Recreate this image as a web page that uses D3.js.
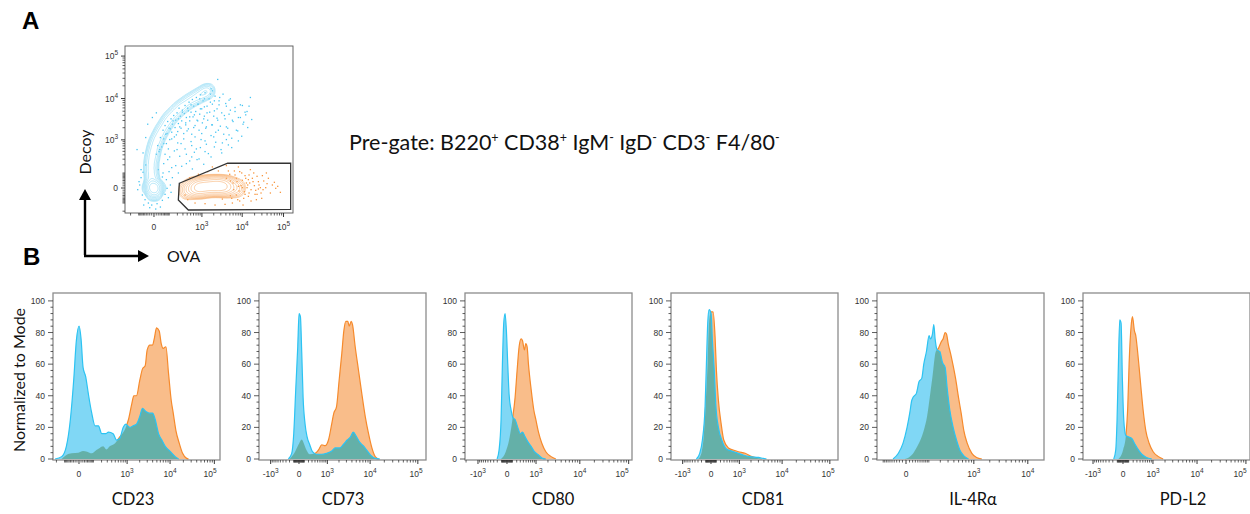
<!DOCTYPE html>
<html>
<head>
<meta charset="utf-8">
<script src="https://cdn.jsdelivr.net/npm/d3@7"></script>
<style>
  body { margin: 0; background: #fff; }
  svg { display: block; }
  text { font-family: Lato, "Open Sans", sans-serif; white-space: pre; }
</style>
</head>
<body>
<svg id="fig" width="1250" height="514"></svg>
<script>
// ---------- data ----------
const markers = ['CD23', 'CD73', 'CD80', 'CD81', 'IL-4R\u03b1', 'PD-L2'];
// biexponential-like display of each x axis: symlog constant + fluorescence range
const xConst = [90, 350, 350, 350, 63, 330];
const xRange = [[-256, 134000], [-2000, 147700], [-2118, 116800], [-2000, 147700], [-148, 19700], [-1790, 120900]];
const majorVals = [-1000, 0, 1000, 10000, 100000];
const yTicks = [0, 20, 40, 60, 80, 100];

// histograms: [channel 0-250, % of mode]  (blue = decoy+, orange = OVA+ gate)
const cd23Decoy = [[3,0],[13,1.5],[20,8],[26,25],[31,50],[35,75],[39,84],[42,76],[45,58],[49,52],[53,41],[58,29],[63,21],[68,21],[73,16],[79,16],[83,17],[90,16],[95,12],[100,13],[105,20],[109,22],[115,20],[120,21],[125,22],[130,27],[134,32],[139,30],[144,29],[149,29],[153,25],[158,16],[163,12],[168,8],[175,5],[183,1.5],[188,0]];
const cd23Ova = [[13,0],[20,2.5],[28,3.6],[38,4],[45,5],[51,4.6],[58,3.6],[65,5.7],[70,7],[75,8],[80,6],[85,8],[93,10],[100,14],[108,19],[113,25],[118,35],[121,40],[125,40],[130,50],[134,57],[138,59],[141,69],[145,72],[149,72],[152,77],[155,83],[159,81],[162,73],[165,70],[169,71],[173,54],[177,37],[180,29],[184,18],[189,10],[194,3.6],[200,0.4],[203,0]];
const cd73Decoy = [[44,0],[49,3.6],[52,16],[55,44],[58,71],[60,92],[62,90],[64,67],[66,39],[69,22],[72,14],[76,9],[80,4.6],[86,3],[94,3],[101,3.6],[109,5],[114,7],[121,7],[127,9.5],[132,12],[137,14],[141,17],[146,14],[151,10.5],[156,8.4],[161,5.7],[167,2.5],[174,0.4],[181,0]];
const cd73Ova = [[46,0],[54,4.6],[59,9],[64,12.4],[67,10],[71,5.7],[76,3],[84,3.6],[89,5.7],[94,9],[99,8.4],[104,12],[109,22.5],[112,29],[116,33],[120,50],[124,67],[127,81],[130,87],[133,87],[135,84],[138,87],[140,85],[144,71],[149,56],[154,41],[159,27],[164,16],[169,7],[174,1.5],[179,0]];
const cd80Decoy = [[48,0],[51,5.7],[54,25],[56,60],[58,86],[60,92],[62,81],[64,60],[66,41],[69,31],[72,26],[75,25],[79,20],[83,16],[86,17],[90,14],[94,11],[99,8],[104,4.6],[110,2.5],[116,0.4],[121,0]];
const cd80Ova = [[54,0],[61,4.6],[66,12],[71,25],[75,39],[78,56],[81,71],[84,76],[86,75],[89,69],[91,73],[93,71],[95,60],[99,44],[103,31],[106,25],[110,17],[115,10],[121,4.6],[129,1.5],[136,0]];
const cd81Decoy = [[38,0],[43,3.6],[47,12],[51,33],[53,60],[55,86],[57,94.5],[60,92],[62,75],[65,54],[67,35],[71,20],[76,12],[83,6.3],[91,5],[98,4],[108,2.5],[118,1.5],[131,1],[138,0.4],[143,0]];
const cd81Ova = [[41,0],[46,4.6],[49,14],[52,35],[55,62],[57,86],[60,93],[63,93],[66,77],[68,56],[71,37],[75,22.5],[79,12],[86,7],[93,5.7],[101,4.6],[111,3.6],[121,1.5],[131,0.4],[136,0]];
const il4rDecoy = [[24,0],[32,3.6],[39,10],[45,20],[49,29],[52,37],[54,39],[59,41.5],[63,49],[67,51],[70,60],[74,68],[78,78],[80,76],[83,79],[85,85],[87,76],[90,69],[94,68],[98,61],[102,58],[105,45],[109,31],[114,20],[119,12],[124,5.7],[130,2],[137,0]];
const il4rOva = [[42,0],[52,2.5],[59,7],[65,12],[70,18],[75,27],[79,39],[83,52],[88,68],[92,70],[96,74],[99,76],[102,80],[104,79],[107,72],[110,67],[114,59],[118,50],[122,39],[126,29],[130,18],[135,10],[142,3.6],[149,1],[157,0]];
const pdl2Decoy = [[46,0],[49,5.7],[51,25],[53,60],[55,88],[57,86],[59,50],[61,25],[64,15],[68,14],[73,13],[77,10],[81,7],[88,3],[95,1],[103,0]];
const pdl2Ova = [[53,0],[60,5.7],[64,14],[67,33],[69,60],[72,84],[74,90],[77,81],[79,78],[81,71],[84,58],[87,44],[90,31],[94,18],[99,10],[105,4.6],[113,1.5],[120,0]];
const decoyHists = [cd23Decoy, cd73Decoy, cd80Decoy, cd81Decoy, il4rDecoy, pdl2Decoy];
const ovaHists = [cd23Ova, cd73Ova, cd80Ova, cd81Ova, il4rOva, pdl2Ova];

// panel A: OVA (x) vs Decoy (y), channels 0-250
const scatterConstX = 75, scatterRangeX = [-300, 169300];
const scatterConstY = 80, scatterRangeY = [-229, 172500];
// dense cores [x, y, weight] used for the contour levels
const decoyCore = [[43.5,37.5,11],[44,32,3],[41,42,3],[37,37.5,2],[50,37.5,2],[43.5,29,2],[41.5,45,1.6],[40.5,52.5,1.5],[39.5,60,1.4],[39,67.5,1.4],[39.5,75,1.4],[40.5,82.5,1.4],[42,89,1.4],[43.5,96,1.4],[45.5,103,1.4],[48,109.5,1.4],[51,115.5,1.3],[54,121.5,1.3],[57.5,127.5,1.3],[61.5,133.5,1.3],[65,139,1.3],[69,144,1.2],[73.5,148.5,1.2],[78,153,1.2],[82.5,157,1.2],[87,160.5,1.1],[92,164.5,1.1],[97.5,168,1.1],[103,171,1.1],[108,174,1.1],[112.5,176.5,1.1],[117,178.5,1.2],[121,181,1.3],[124.5,183,1.4]];
const ovaCore = [[94.5,34.5,2],[105,37.5,6],[111,38,7],[117,39,8],[124,40,7],[130.5,40.5,7],[136,40.5,7],[142.5,40.5,8],[148,40,6],[154.5,39,5],[166.5,37.5,2]];
// outlying events drawn as dots
const decoyEvents = [[52,95],[58,104],[61,118],[68,126],[72,138],[80,141],[86,151],[95,153],[99,162],[109,163],[112,171],[119,171],[128,178],[131,183],
  [60,88],[65,96],[70,111],[77,117],[82,129],[91,135],[97,144],[104,147],[113,156],[119,159],[128,166],[134,168],[142,173],
  [67,84],[74,93],[79,105],[88,111],[93,123],[103,128],[109,138],[118,141],[123,150],[134,153],[141,162],[151,164],[156,169],
  [76,71],[82,85],[90,96],[100,101],[105,114],[115,119],[122,129],[131,132],[138,142],[149,146],[158,154],[165,158],[176,161],
  [85,70],[97,78],[104,91],[113,98],[120,108],[133,114],[140,124],[152,129],[161,139],[173,143],[180,151],
  [101,66],[111,81],[125,89],[134,99],[146,105],[156,117],[169,123],[177,133],
  [118,73],[129,84],[145,90],[155,102],[170,108],[139,200],[188,173],[183,152],[50,65],[56,54],
  [27,90],[18,95],[31,113],[34,133],[31,72],[24,65],[41,143],[47,150],
  [22,42],[26,27],[30,20],[35,15],[40,12],[48,14],[56,19],[60,28],[63,37],[62,50],[57,60],[24,53],[19,35],[28,12],
  [53,9],[65,23],[68,42],[37,8],[46,6],[21,47],[69,31],[71,53],[66,62],[27,61],
  [47,88],[49,101],[51,92],[53,113],[55,99],[57,124],[58,111],[60,131],[62,104],[63,119],[64,137],[66,127],[67,110],[69,141],
  [70,121],[71,133],[73,146],[74,114],[75,128],[76,139],[78,150],[79,122],[80,134],[81,157],[83,145],[84,127],[85,138],[86,154],
  [88,119],[89,149],[90,161],[91,132],[92,143],[94,157],[95,126],[96,166],[97,138],[99,151],[100,118],[101,170],[102,144],
  [103,160],[105,131],[106,152],[107,173],[108,139],[110,163],[111,124],[112,148],[113,177],[115,156],[116,135],[117,168],
  [119,145],[120,180],[121,127],[123,160],[124,139],[126,171],[127,151],[129,186],[130,132],[131,163],[133,145],[135,175],
  [136,121],[138,156],[139,139],[141,168],[143,130],[145,150],[147,178],[148,118],[150,141],[152,160],[154,127],[156,148],
  [158,171],[160,112],[162,137],[165,152],[167,124],[170,143],[173,162],[175,115],[178,136],[181,147],[184,128],[186,160],
  [190,140],[78,95],[84,104],[92,88],[99,107],[107,96],[114,110],[122,103],[129,116],[108,80],[120,92],[136,106],[144,95],
  [152,110],[160,98],[92,74],[100,84],[64,80],[58,74],[70,68],[80,60]];
const ovaEvents = [[187,45],[196,34],[203,38],[180,56],[172,62],[185,25],[169,20],[161,15],[150,13],[135,12],[120,14],[105,15],
  [94,20],[90,27],[97,53],[110,58],[124,62],[140,63],[155,63],[165,57],[176,49],[183,38],[191,52],[200,47],[207,35],[221,42],
  [233,31],[197,20],[177,12],[167,27],[179,32],[188,65],[206,56],[170,69],[152,71],[131,69],[146,21],[158,26],[174,41],[182,45],
  [194,41],[162,45],[167,52],[213,44],[226,37],[198,28],[186,30],
  [152,52],[157,58],[163,35],[168,47],[171,33],[175,60],[178,22],[181,52],[184,42],[186,57],[189,35],[192,47],[195,28],[198,55],
  [201,42],[204,30],[208,48],[211,38],[215,52],[218,30],[224,46],[229,40],[160,22],[164,63],[172,18],[189,18],[205,22],[212,60],
  [176,38],[193,60],[185,50],[170,40],[158,48],[200,36],[180,28]];
const gateVerts = [[81.5,44.5],[154,74.5],[248.5,74.5],[248.5,5.5],[95,4.5],[80,19.5]];

const preGate = [['Pre-gate: B220', '+'], [' CD38', '+'], [' IgM', '-'], [' IgD', '-'], [' CD3', '-'], [' F4/80', '-']];

// ---------- drawing ----------
const svg = d3.select('#fig');
svg.append('rect').attr('width', 1250).attr('height', 514).attr('fill', '#fff');
const defs = svg.append('defs');

const BLUE = '#2cc3f2', ORANGE = '#f68a2c';
const tickFont = '"Liberation Sans", Arial, sans-serif';

function tickLabel(g, v, x, y, anchor) {
  const t = g.append('text').attr('x', x).attr('y', y).attr('text-anchor', anchor)
    .attr('font-size', 8.5).attr('fill', '#333').style('font-family', tickFont);
  if (v === 0) { t.text('0'); return; }
  t.append('tspan').text((v < 0 ? '-' : '') + '10');
  t.append('tspan').attr('dy', -4).attr('font-size', 6.5).text(Math.round(Math.log10(Math.abs(v))));
}

const minorVals = [];
for (let n = 1; n <= 5; n++) for (let m = 1; m <= 9; m++) {
  const v = m * Math.pow(10, n);
  if (!majorVals.includes(v)) minorVals.push(v);
  if (!majorVals.includes(-v)) minorVals.push(-v);
}

// ---------- panel B histograms ----------
const W = 167, hTop = 293, hBottom = 460;
markers.forEach((name, i) => {
  const left = 53 + i * 206;
  const g = svg.append('g');
  const x = d3.scaleLinear().domain([0, 250]).range([left, left + W]);
  const y = d3.scaleLinear().domain([0, 105]).range([459, hTop]);
  const xf = d3.scaleSymlog().constant(xConst[i]).domain(xRange[i]).range([left, left + W]);

  const area = d3.area().x(d => x(d[0])).y0(y(0)).y1(d => y(d[1])).curve(d3.curveMonotoneX);
  const line = d3.line().x(d => x(d[0])).y(d => y(d[1])).curve(d3.curveMonotoneX);

  defs.append('clipPath').attr('id', 'ova' + i).append('path').attr('d', area(ovaHists[i]));

  g.append('path').attr('d', area(ovaHists[i])).attr('fill', '#f9bd8a');
  g.append('path').attr('d', line(ovaHists[i])).attr('fill', 'none').attr('stroke', ORANGE).attr('stroke-width', 1.2);
  g.append('path').attr('d', area(decoyHists[i])).attr('fill', '#80d7f5');
  g.append('path').attr('d', area(decoyHists[i])).attr('clip-path', `url(#ova${i})`)
    .attr('fill', '#5fa99a').attr('fill-opacity', 0.85);
  g.append('path').attr('d', line(decoyHists[i])).attr('fill', 'none').attr('stroke', BLUE).attr('stroke-width', 1.2);

  g.append('rect').attr('x', left).attr('y', hTop).attr('width', W).attr('height', hBottom - hTop)
    .attr('fill', 'none').attr('stroke', '#8c8c8c').attr('stroke-width', 1.3);

  // y ticks
  d3.range(0, 101, 4).forEach(v => {
    const len = v % 20 === 0 ? 5 : 2.5;
    g.append('line').attr('x1', left - len).attr('x2', left).attr('y1', y(v)).attr('y2', y(v))
      .attr('stroke', '#333').attr('stroke-width', 0.8);
  });
  yTicks.forEach(v => {
    g.append('text').attr('x', left - 8).attr('y', y(v) + 3).attr('text-anchor', 'end')
      .attr('font-size', 8.5).attr('fill', '#333').style('font-family', tickFont).text(v);
  });

  // x ticks
  const [d0, d1] = xRange[i];
  minorVals.filter(v => v > d0 && v < d1).forEach(v => {
    g.append('line').attr('x1', xf(v)).attr('x2', xf(v)).attr('y1', hBottom).attr('y2', hBottom + 2.5)
      .attr('stroke', '#222').attr('stroke-width', 0.7);
  });
  majorVals.filter(v => v > d0 && v < d1).forEach(v => {
    g.append('line').attr('x1', xf(v)).attr('x2', xf(v)).attr('y1', hBottom).attr('y2', hBottom + 4)
      .attr('stroke', '#222').attr('stroke-width', 0.9);
    tickLabel(g, v, Math.min(xf(v), left + W - 10), hBottom + 17, 'middle');
  });

  g.append('text').attr('x', 133 + i * 210).attr('y', 505).attr('text-anchor', 'middle')
    .attr('font-size', 16.5).attr('fill', '#111').text(name);
});

svg.append('text').attr('transform', 'translate(25,380) rotate(-90)').attr('text-anchor', 'middle')
  .attr('font-size', 16).attr('fill', '#111').text('Normalized to Mode');

// ---------- panel A scatter ----------
const sL = 125, sT = 46, sW = 168, sH = 167;
const sx = d3.scaleLinear().domain([0, 252]).range([sL, sL + sW]);
const sy = d3.scaleLinear().domain([0, 250]).range([sT + sH, sT]);
const sxf = d3.scaleSymlog().constant(scatterConstX).domain(scatterRangeX).range([sL, sL + sW]);
const syf = d3.scaleSymlog().constant(scatterConstY).domain(scatterRangeY).range([sT + sH, sT]);
const sg = svg.append('g');

function contourLayer(core, color, bw, nLevels, ratio) {
  const gen = d3.contourDensity()
    .x(d => sx(d[0]) - sL).y(d => sy(d[1]) - sT).weight(d => d[2])
    .size([sW, sH]).cellSize(1).bandwidth(bw);
  let polys;
  if (gen.contours) {
    const c = gen.contours(core);
    polys = d3.range(1, nLevels + 1).map(k => c(c.max * Math.pow(ratio, k)));
  } else {
    polys = gen.thresholds(nLevels * 2)(core).slice(1);
  }
  sg.append('g').attr('transform', `translate(${sL},${sT})`)
    .selectAll('path').data(polys).join('path')
    .attr('d', d3.geoPath()).attr('fill', 'none').attr('stroke', color).attr('stroke-width', 0.6);
}

sg.selectAll('rect.dd').data(decoyEvents).join('rect').attr('class', 'dd')
  .attr('x', d => sx(d[0]) - 0.6).attr('y', d => sy(d[1]) - 0.6).attr('width', 1.3).attr('height', 1.3)
  .attr('fill', '#45c4f2');
sg.selectAll('rect.od').data(ovaEvents).join('rect').attr('class', 'od')
  .attr('x', d => sx(d[0]) - 0.6).attr('y', d => sy(d[1]) - 0.6).attr('width', 1.3).attr('height', 1.3)
  .attr('fill', '#f7963f');
contourLayer(decoyCore, '#86d6f4', 3.2, 8, 0.56);
contourLayer(ovaCore, '#f7ad6c', 4.2, 9, 0.6);

sg.append('path').attr('d', d3.line().x(d => sx(d[0])).y(d => sy(d[1])).curve(d3.curveLinearClosed)(gateVerts))
  .attr('fill', 'none').attr('stroke', '#333').attr('stroke-width', 1.3);

sg.append('rect').attr('x', sL).attr('y', sT).attr('width', sW).attr('height', sH)
  .attr('fill', 'none').attr('stroke', '#555').attr('stroke-width', 0.9);

minorVals.filter(v => v > scatterRangeX[0] && v < scatterRangeX[1]).forEach(v => {
  sg.append('line').attr('x1', sxf(v)).attr('x2', sxf(v)).attr('y1', sT + sH).attr('y2', sT + sH + 2.5)
    .attr('stroke', '#222').attr('stroke-width', 0.7);
});
minorVals.filter(v => v > scatterRangeY[0] && v < scatterRangeY[1]).forEach(v => {
  sg.append('line').attr('y1', syf(v)).attr('y2', syf(v)).attr('x1', sL).attr('x2', sL - 2.5)
    .attr('stroke', '#222').attr('stroke-width', 0.7);
});
majorVals.filter(v => v > scatterRangeX[0] && v < scatterRangeX[1]).forEach(v => {
  sg.append('line').attr('x1', sxf(v)).attr('x2', sxf(v)).attr('y1', sT + sH).attr('y2', sT + sH + 4)
    .attr('stroke', '#222').attr('stroke-width', 0.9);
  tickLabel(sg, v, sxf(v), sT + sH + 17, 'middle');
});
majorVals.filter(v => v > scatterRangeY[0] && v < scatterRangeY[1]).forEach(v => {
  sg.append('line').attr('y1', syf(v)).attr('y2', syf(v)).attr('x1', sL).attr('x2', sL - 4)
    .attr('stroke', '#222').attr('stroke-width', 0.9);
  tickLabel(sg, v, sL - 7, syf(v) + 3, 'end');
});

// axis arrows
svg.append('path').attr('d', 'M85,255 V199 M84,256 H139').attr('stroke', '#000').attr('stroke-width', 2.4).attr('fill', 'none');
svg.append('path').attr('d', 'M79,200 L85,189 L91,200 Z').attr('fill', '#000');
svg.append('path').attr('d', 'M138,250 L149,256 L138,262 Z').attr('fill', '#000');

svg.append('text').attr('transform', 'translate(91,152) rotate(-90)').attr('text-anchor', 'middle')
  .attr('font-size', 16).attr('fill', '#111').text('Decoy');
svg.append('text').attr('x', 167).attr('y', 262).attr('font-size', 16).attr('fill', '#111').text('OVA');

// panel letters
svg.append('text').attr('x', 22).attr('y', 29).attr('font-size', 24).attr('font-weight', 'bold')
  .style('font-family', tickFont).text('A');
svg.append('text').attr('x', 23).attr('y', 265).attr('font-size', 24).attr('font-weight', 'bold')
  .style('font-family', tickFont).text('B');

// pre-gate description
const pg = svg.append('text').attr('x', 349).attr('y', 150).attr('font-size', 21.5).attr('fill', '#111');
preGate.forEach(([txt, sup], k) => {
  pg.append('tspan').attr('dy', k ? 8 : 0).text(txt);
  pg.append('tspan').attr('dy', -8).attr('font-size', 12.5).text(sup);
});
</script>
</body>
</html>
